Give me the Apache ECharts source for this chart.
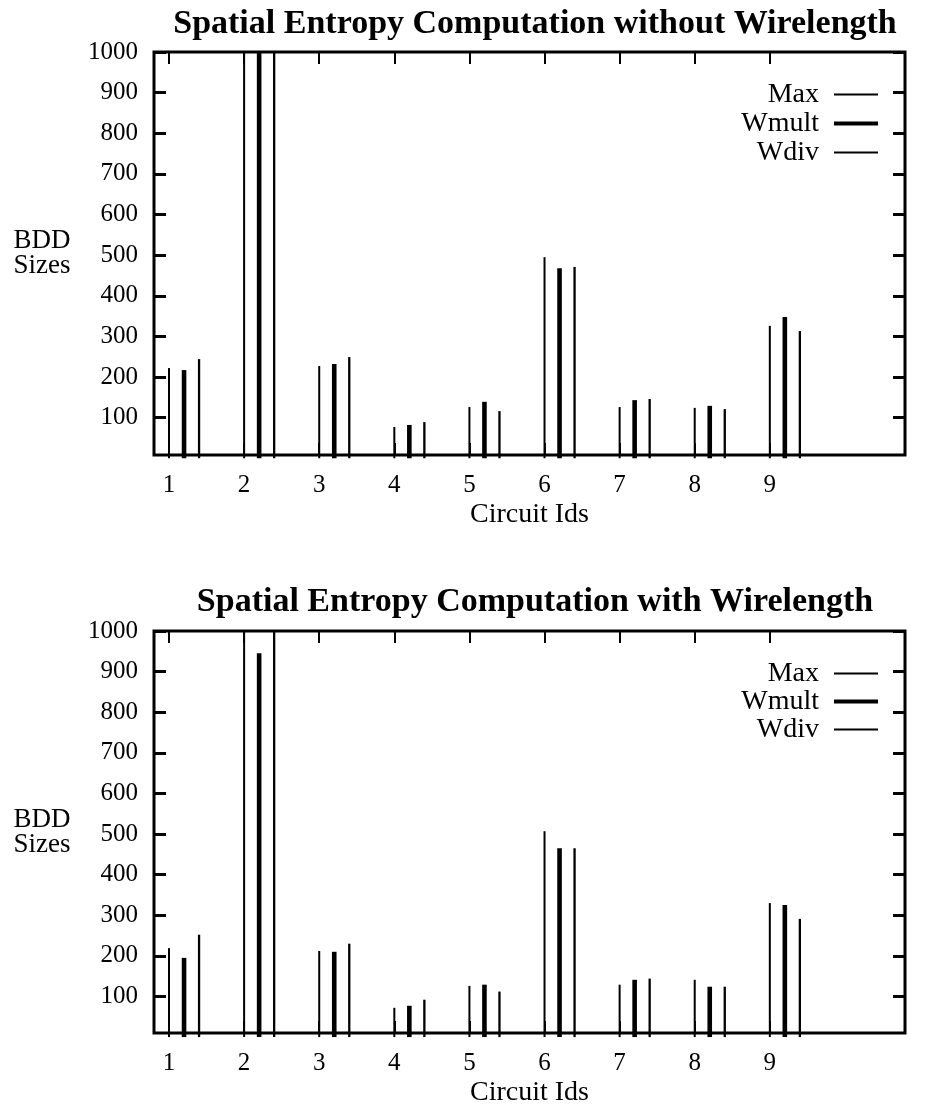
<!DOCTYPE html>
<html>
<head>
    <title>Spatial Entropy Computation</title>
    <script src="https://cdnjs.cloudflare.com/ajax/libs/echarts/6.0.0/echarts.min.js"></script>
    <style>
        html, body { margin: 0; padding: 0; background: #fff; }
        #chart_div { width: 927px; height: 1108px; }
    </style>
</head>
<body>
    <div id="chart_div"></div>

    <script>
        // circuit ids and tick labels
        const circuitIds = [1, 2, 3, 4, 5, 6, 7, 8, 9];
        const yTicks = [100, 200, 300, 400, 500, 600, 700, 800, 900, 1000];

        // without wirelength (values for circuit 2 run off the top of the plot)
        const maxNoWire   = [222, 1000, 227, 77, 126, 495, 126, 124, 326];
        const wmultNoWire = [217, 1000, 232, 82, 139, 468, 143, 129, 348];
        const wdivNoWire  = [244, 1000, 249, 89, 116, 471, 146, 121, 313];

        // with wirelength
        const maxWire   = [219, 1000, 212, 72, 126, 507, 129, 141, 330];
        const wmultWire = [195, 945, 210, 77, 129, 465, 141, 124, 325];
        const wdivWire  = [252, 1000, 230, 92, 112, 465, 144, 124, 291];

        const FONT = 'Liberation Serif';
        const Y_MAX = 1000;

        let myChart = echarts.init(document.getElementById('chart_div'));

        function impulse(width) {
            return function (params, api) {
                const x = api.value(0);
                const y = Math.min(api.value(1), Y_MAX);
                const p0 = api.coord([x, 0]);
                const p1 = api.coord([x, y]);
                return {
                    type: 'line',
                    shape: { x1: p0[0], y1: p0[1], x2: p1[0], y2: p1[1] },
                    style: { stroke: '#000', lineWidth: width }
                };
            };
        }

        function makeSeries(name, ids, vals, shift, width, idx) {
            return {
                name: name,
                type: 'custom',
                xAxisIndex: idx * 2,
                yAxisIndex: idx * 2,
                itemStyle: { color: '#000' },
                renderItem: impulse(width),
                data: ids.map((id, i) => [id + shift, vals[i]])
            };
        }

        function xAxes(gridIndex) {
            const tick = { show: true, inside: true, length: 12, lineStyle: { color: '#000', width: 2 }, customValues: circuitIds };
            return [
                {
                    type: 'value', gridIndex: gridIndex, min: 0.8, max: 10.8, position: 'bottom',
                    axisLine: { show: false }, splitLine: { show: false },
                    axisTick: tick,
                    axisLabel: { customValues: circuitIds, margin: 11, color: '#000', fontFamily: FONT, fontSize: 25 },
                    name: 'Circuit Ids', nameLocation: 'middle', nameGap: 38, nameMoveOverlap: false,
                    nameTextStyle: { color: '#000', fontFamily: FONT, fontSize: 28 }
                },
                {
                    type: 'value', gridIndex: gridIndex, min: 0.8, max: 10.8, position: 'top',
                    axisLine: { show: false }, splitLine: { show: false },
                    axisTick: tick, axisLabel: { show: false }
                }
            ];
        }

        function yAxes(gridIndex, yMin) {
            const tick = { show: true, inside: true, length: 12, lineStyle: { color: '#000', width: 3 }, customValues: yTicks };
            return [
                {
                    type: 'value', gridIndex: gridIndex, min: yMin, max: Y_MAX, position: 'left',
                    axisLine: { show: false }, splitLine: { show: false },
                    axisTick: tick,
                    axisLabel: {
                        customValues: yTicks, margin: 16, color: '#000', fontFamily: FONT, fontSize: 25,
                        formatter: v => String(v)
                    },
                    name: 'BDD\nSizes', nameLocation: 'middle', nameGap: 112, nameRotate: 0, nameMoveOverlap: false,
                    nameTextStyle: { color: '#000', fontFamily: FONT, fontSize: 27, align: 'center', lineHeight: 25 }
                },
                {
                    type: 'value', gridIndex: gridIndex, min: yMin, max: Y_MAX, position: 'right',
                    axisLine: { show: false }, splitLine: { show: false },
                    axisTick: tick, axisLabel: { show: false }
                }
            ];
        }

        function legends(rowTops) {
            const names = ['Max', 'Wmult', 'Wdiv'];
            const heights = [2, 4, 2];
            return names.map((n, i) => ({
                data: [n],
                orient: 'vertical',
                right: 49,
                top: rowTops[i],
                align: 'right',
                padding: 0,
                icon: 'rect',
                itemWidth: 44,
                itemHeight: heights[i],
                selectedMode: false,
                textStyle: { color: '#000', fontFamily: FONT, fontSize: 28, padding: [0, 10, 0, 0] }
            }));
        }

        const option = {
            backgroundColor: '#fff',
            animation: false,
            title: [
                {
                    text: 'Spatial Entropy Computation without Wirelength',
                    left: 530, top: -8, textAlign: 'center',
                    textStyle: { color: '#000', fontFamily: FONT, fontSize: 34, fontWeight: 'bold' }
                },
                {
                    text: 'Spatial Entropy Computation with Wirelength',
                    left: 530, top: 570, textAlign: 'center',
                    textStyle: { color: '#000', fontFamily: FONT, fontSize: 34, fontWeight: 'bold' }
                }
            ],
            legend: legends([73, 102, 131]).concat(legends([652, 680, 708])),
            grid: [
                { left: 154, right: 22, top: 52, height: 403, show: true, borderColor: '#000', borderWidth: 3, outerBoundsMode: 'none' },
                { left: 154, right: 22, top: 631, height: 402, show: true, borderColor: '#000', borderWidth: 3, outerBoundsMode: 'none' }
            ],
            xAxis: xAxes(0).concat(xAxes(1)),
            yAxis: yAxes(0, 8).concat(yAxes(1, 10)),
            series: [
                makeSeries('Max', circuitIds, maxNoWire, 0, 2, 0),
                makeSeries('Wmult', circuitIds, wmultNoWire, 0.2, 4.6, 0),
                makeSeries('Wdiv', circuitIds, wdivNoWire, 0.4, 2.3, 0),
                makeSeries('Max', circuitIds, maxWire, 0, 2, 1),
                makeSeries('Wmult', circuitIds, wmultWire, 0.2, 4.6, 1),
                makeSeries('Wdiv', circuitIds, wdivWire, 0.4, 2.3, 1)
            ]
        };

        myChart.setOption(option);

        window.addEventListener('resize', () => {
            if (myChart) {
                myChart.resize();
            }
        });
    </script>
</body>
</html>
